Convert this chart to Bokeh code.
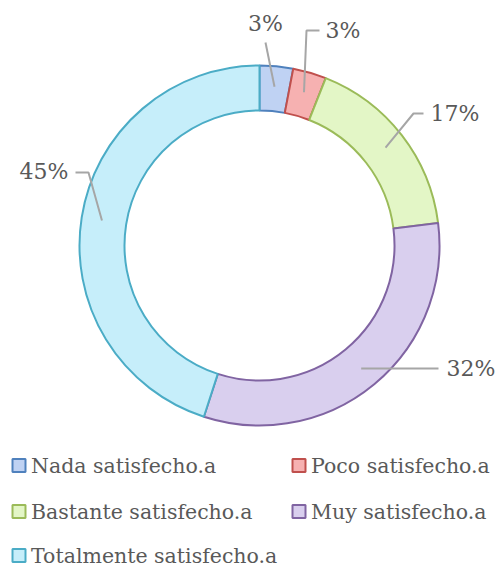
import math
from bokeh.plotting import figure
from bokeh.models import Range1d, ColumnDataSource
from bokeh.core.properties import value
from bokeh.embed import file_html
from bokeh.resources import INLINE

# ---- data ----
categories = ["Nada satisfecho.a", "Poco satisfecho.a", "Bastante satisfecho.a",
              "Muy satisfecho.a", "Totalmente satisfecho.a"]
percentages = [3, 3, 17, 32, 45]
labels = ["3%", "3%", "17%", "32%", "45%"]
fill_colors = ["#bfd2f3", "#f6b1b1", "#e3f6c6", "#d9cfee", "#c6eefa"]
line_colors = ["#4f81bd", "#c0504d", "#9bbb59", "#8064a2", "#4bacc6"]

W, H = 497, 569
FONT = "DejaVu Serif"
TXT = "#595959"

def Y(py):
    return H - py

p = figure(width=W, height=H, output_backend="svg", toolbar_location=None,
           x_range=Range1d(0, W), y_range=Range1d(0, H), min_border=0)
p.axis.visible = False
p.grid.visible = False
p.outline_line_color = None
p.background_fill_color = "white"

cx, cy = 259, Y(245)
R_out, R_in = 180, 135

total = sum(percentages)
starts, ends, mids = [], [], []
cum = 0
for v in percentages:
    a0 = math.pi / 2 - 2 * math.pi * cum / total
    cum += v
    a1 = math.pi / 2 - 2 * math.pi * cum / total
    starts.append(a0)
    ends.append(a1)
    mids.append((a0 + a1) / 2)

src = ColumnDataSource(dict(start=starts, end=ends, fill=fill_colors, line=line_colors))
p.annular_wedge(x=cx, y=cy, inner_radius=R_in, outer_radius=R_out,
                start_angle="start", end_angle="end", direction="clock",
                fill_color="fill", line_color="line", line_width=2, source=src)

# leader lines: start at slice middle, then elbow / label anchor (layout)
r_mid = (R_in + R_out) / 2 + 2
elbows = [None, (306, 30), (413, 113), None, (88, 172)]
ends_pts = [(265, 42), (319, 30), (423, 113), (438, 368), (75, 172)]
label_pos = [(265, 23, "center"), (325, 30, "left"), (430, 113, "left"),
             (446, 368, "left"), (68, 171, "right")]

for i, m in enumerate(mids):
    sx = cx + r_mid * math.cos(m)
    sy = cy + r_mid * math.sin(m)
    xs, ys = [sx], [sy]
    if elbows[i] is not None:
        xs.append(elbows[i][0]); ys.append(Y(elbows[i][1]))
    xs.append(ends_pts[i][0]); ys.append(Y(ends_pts[i][1]))
    p.line(xs, ys, line_color="#a6a6a6", line_width=2)
    lx, ly, al = label_pos[i]
    p.text(x=[lx], y=[Y(ly)], text=[labels[i]], text_font=value(FONT),
           text_font_size="22px", text_color=TXT, text_align=al,
           text_baseline="middle")

# legend (manual, two columns)
leg_pos = [(18.5, 465), (298.5, 465), (18.5, 511), (298.5, 511), (18.5, 555)]
for i, cat in enumerate(categories):
    mx, my = leg_pos[i]
    p.scatter(x=[mx], y=[Y(my)], marker="square", size=13,
              fill_color=fill_colors[i], line_color=line_colors[i], line_width=2)
    p.text(x=[mx + 12], y=[Y(my)], text=[cat], text_font=value(FONT),
           text_font_size="20.5px", text_color=TXT, text_align="left",
           text_baseline="middle")

open("out.html", "w").write(file_html(p, INLINE))
